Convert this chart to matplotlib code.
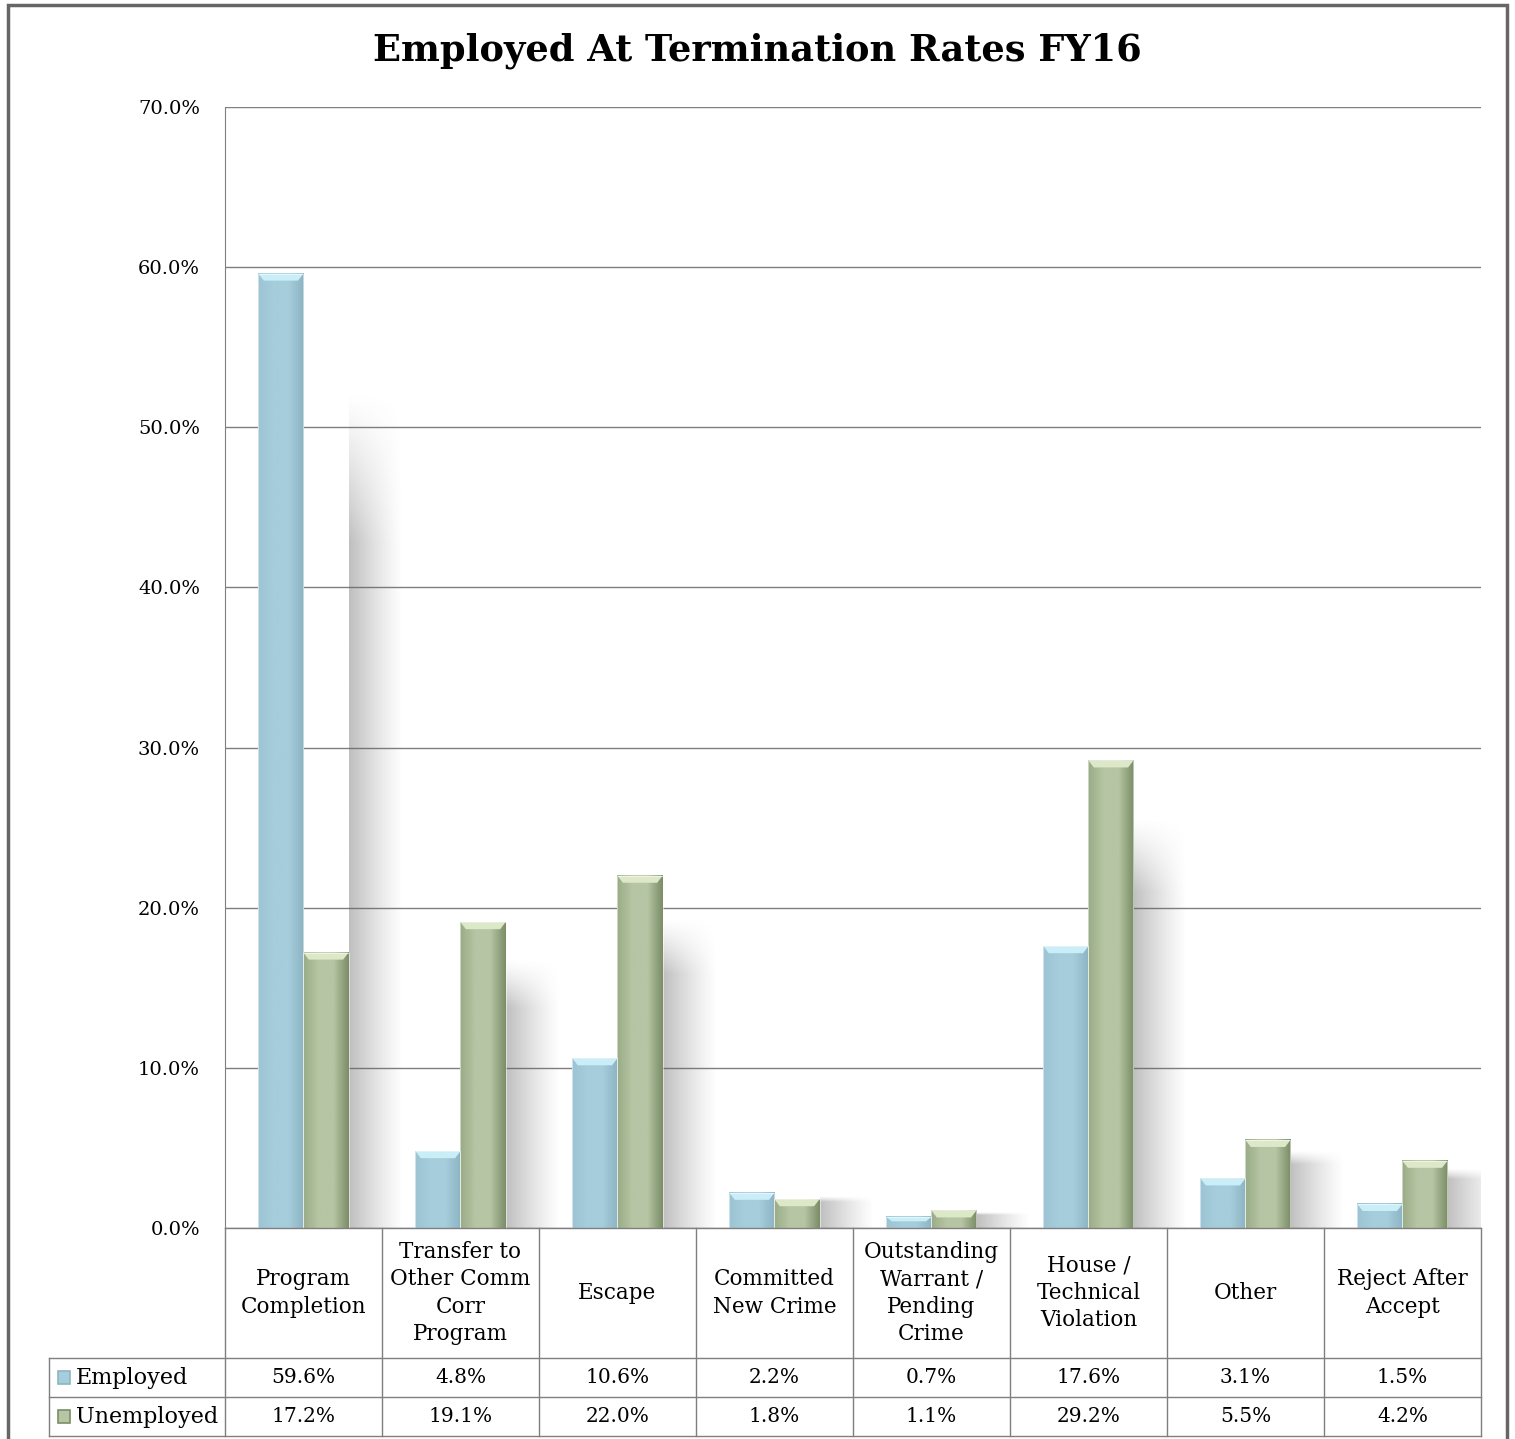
import matplotlib
matplotlib.use('Agg')
import matplotlib.pyplot as plt
from matplotlib.patches import Polygon, Rectangle
from matplotlib.transforms import blended_transform_factory
import numpy as np

plt.rcParams['font.family'] = ['DejaVu Serif']

# data
categories = ['Program\nCompletion', 'Transfer to\nOther Comm\nCorr\nProgram', 'Escape',
              'Committed\nNew Crime', 'Outstanding\nWarrant /\nPending\nCrime',
              'House /\nTechnical\nViolation', 'Other', 'Reject After\nAccept']
employed = [59.6, 4.8, 10.6, 2.2, 0.7, 17.6, 3.1, 1.5]
unemployed = [17.2, 19.1, 22.0, 1.8, 1.1, 29.2, 5.5, 4.2]
series_names = ['Employed', 'Unemployed']

blue = dict(left='#9cc4d4', mid='#a6cddb', right='#8db4c4', cap='#c9eef8')
green = dict(left='#9aac87', mid='#b6c5a3', right='#7b8e67', cap='#dde8c8')

fig = plt.figure(figsize=(15.15, 14.39), dpi=100)
ax = fig.add_axes([0.1485, 0.1466, 0.829, 0.779])

w = 0.287
px = 70.0 / 1121  # data units per pixel (vertical)


def grad_bar(x0, h, c):
    if h <= 0:
        return
    cmap = matplotlib.colors.LinearSegmentedColormap.from_list(
        'g', [c['left'], c['mid'], c['mid'], c['right']])
    g = np.linspace(0, 1, 64).reshape(1, -1)
    ax.imshow(g, cmap=cmap, extent=[x0, x0 + w, 0, h], aspect='auto',
              interpolation='bilinear', zorder=3)
    cap = min(7 * px, h * 0.4)
    dx = w * 0.12
    ax.add_patch(Polygon([[x0, h], [x0 + w, h], [x0 + w - dx, h - cap], [x0 + dx, h - cap]],
                         closed=True, facecolor=c['cap'], edgecolor='none', zorder=4))
    ax.add_patch(Rectangle((x0, 0), w, h, facecolor='none', edgecolor='#ffffff',
                           lw=0.6, alpha=0.6, zorder=5))


def shadow(x0, h):
    if h <= 0:
        return
    nx, ny = 40, 100
    xs = np.linspace(0, 1, nx)
    ys = np.linspace(0, 1, ny)
    fx = np.clip(1 - xs, 0, 1) ** 1.2
    fy = np.clip(ys / 0.18, 0, 1) ** 1.2
    a = 0.4 * np.outer(fy, fx)
    img = np.zeros((ny, nx, 4))
    img[..., :3] = 0.38
    img[..., 3] = a
    ax.imshow(img, extent=[x0, x0 + 0.35, 0, h], origin='upper', aspect='auto',
              interpolation='bilinear', zorder=2)


for i in range(len(categories)):
    e, u = employed[i], unemployed[i]
    shadow(i + w, 0.88 * max(e, u))
    grad_bar(i - w, e, blue)
    grad_bar(i, u, green)

ax.set_xlim(-0.5, len(categories) - 0.5)
ax.set_ylim(0, 70)
ax.set_yticks(np.arange(0, 71, 10))
ax.set_yticklabels(['%.1f%%' % v for v in np.arange(0, 71, 10)], fontsize=14)
ax.set_xticks([])
ax.tick_params(axis='y', length=0, pad=18)
ax.grid(axis='y', color='#7f7f7f', lw=1.0, zorder=0)
ax.set_axisbelow(True)
for s in ['top', 'right', 'bottom']:
    ax.spines[s].set_visible(False)
ax.spines['left'].set_color('#7f7f7f')

# data table under the chart
tr = blended_transform_factory(ax.transData, ax.transAxes)
lc = '#7f7f7f'
y_head = -130 / 1121
y_r1 = -169 / 1121
y_r2 = -208 / 1121
x_leg = -0.5 - 176 * 8 / 1256
n = len(categories)
lines = [
    ([-0.5, n - 0.5], [0, 0]),
    ([x_leg, n - 0.5], [y_head, y_head]),
    ([x_leg, n - 0.5], [y_r1, y_r1]),
    ([x_leg, n - 0.5], [y_r2, y_r2]),
    ([x_leg, x_leg], [y_head, y_r2]),
]
for k in range(n + 1):
    lines.append(([k - 0.5, k - 0.5], [0, y_r2]))
for xs, ys in lines:
    ax.plot(xs, ys, color=lc, lw=1.0, transform=tr, clip_on=False, zorder=6)

for i, lab in enumerate(categories):
    ax.text(i, y_head / 2, lab, transform=tr, ha='center', va='center',
            fontsize=15.5, linespacing=1.32)
    ax.text(i, (y_head + y_r1) / 2, '%.1f%%' % employed[i], transform=tr,
            ha='center', va='center', fontsize=14.5)
    ax.text(i, (y_r1 + y_r2) / 2, '%.1f%%' % unemployed[i], transform=tr,
            ha='center', va='center', fontsize=14.5)

for yc, name, c in [((y_head + y_r1) / 2, series_names[0], blue),
                    ((y_r1 + y_r2) / 2, series_names[1], green)]:
    sq = 0.075
    ax.add_patch(Rectangle((x_leg + 0.06, yc - 0.0055), sq, 0.011, transform=tr,
                           facecolor=c['mid'], edgecolor=c['right'], lw=1.2,
                           clip_on=False, zorder=7))
    ax.text(x_leg + 0.17, yc, name, transform=tr, ha='left', va='center', fontsize=16)

fig.text(0.5, 0.965, 'Employed At Termination Rates FY16', ha='center', va='center',
         fontsize=26.5, fontweight='bold')

fig.patches.append(Rectangle((0.005, -0.01), 0.99, 1.0066, transform=fig.transFigure,
                             facecolor='none', edgecolor='#666666', lw=2.5))

fig.savefig('out.png', dpi=100)
